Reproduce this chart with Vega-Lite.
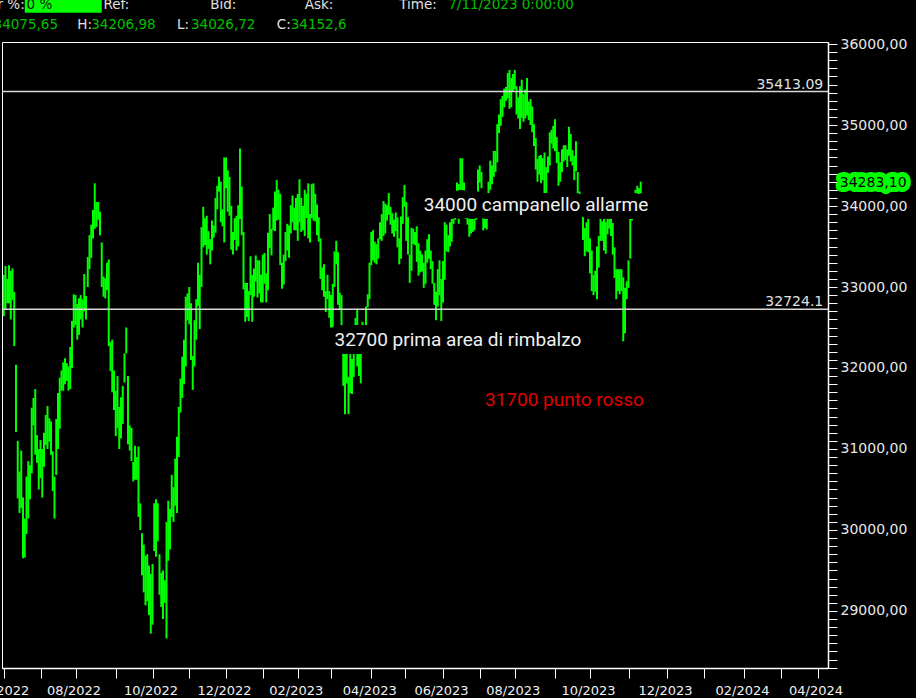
{
"$schema":"https://vega.github.io/schema/vega-lite/v6.json",
"width":826,"height":626,
"autosize":{"type":"none"},
"padding":{"left":2,"top":42,"right":88,"bottom":30},
"background":"#000000",
"config":{"view":{"stroke":"#ffffff","strokeWidth":1},"axis":{"grid":false}},
"datasets":{
"px":[
{"d":"2022-06-01","l":32640,"h":33150},{"d":"2022-06-02","l":32720,"h":33260},{"d":"2022-06-03","l":32800,"h":33100},{"d":"2022-06-06","l":32800,"h":33270},{"d":"2022-06-07","l":32600,"h":33200},{"d":"2022-06-08","l":32840,"h":33230},{"d":"2022-06-09","l":32270,"h":32940},{"d":"2022-06-10","l":31210,"h":32040},{"d":"2022-06-13","l":30390,"h":31100},{"d":"2022-06-14","l":30210,"h":30720},{"d":"2022-06-15","l":30270,"h":30980},{"d":"2022-06-16","l":29650,"h":30400},{"d":"2022-06-17","l":29660,"h":30140},{"d":"2022-06-21","l":29950,"h":30660},{"d":"2022-06-22","l":30140,"h":30850},{"d":"2022-06-23","l":30380,"h":30800},{"d":"2022-06-24","l":30700,"h":31510},{"d":"2022-06-27","l":31290,"h":31630},{"d":"2022-06-28","l":30930,"h":31740},{"d":"2022-06-29","l":30830,"h":31170},{"d":"2022-06-30","l":30500,"h":31000},
{"d":"2022-07-01","l":30640,"h":31110},{"d":"2022-07-05","l":30400,"h":31000},{"d":"2022-07-06","l":30780,"h":31200},{"d":"2022-07-07","l":31050,"h":31420},{"d":"2022-07-08","l":31000,"h":31530},{"d":"2022-07-11","l":31090,"h":31380},{"d":"2022-07-12","l":30930,"h":31340},{"d":"2022-07-13","l":30480,"h":30970},{"d":"2022-07-14","l":30140,"h":30660},{"d":"2022-07-15","l":30680,"h":31370},{"d":"2022-07-18","l":31000,"h":31690},{"d":"2022-07-19","l":31250,"h":31880},{"d":"2022-07-20","l":31720,"h":31970},{"d":"2022-07-21","l":31720,"h":32070},{"d":"2022-07-22","l":31800,"h":32120},{"d":"2022-07-25","l":31840,"h":32060},{"d":"2022-07-26","l":31720,"h":32020},{"d":"2022-07-27","l":31740,"h":32260},{"d":"2022-07-28","l":32000,"h":32580},{"d":"2022-07-29","l":32500,"h":32910},
{"d":"2022-08-01","l":32530,"h":32900},{"d":"2022-08-02","l":32350,"h":32790},{"d":"2022-08-03","l":32410,"h":32860},{"d":"2022-08-04","l":32600,"h":32900},{"d":"2022-08-05","l":32500,"h":32850},{"d":"2022-08-08","l":32700,"h":33160},{"d":"2022-08-09","l":32600,"h":32890},{"d":"2022-08-10","l":33000,"h":33370},{"d":"2022-08-11","l":33220,"h":33640},{"d":"2022-08-12","l":33360,"h":33770},{"d":"2022-08-15","l":33600,"h":33950},{"d":"2022-08-16","l":33720,"h":34280},{"d":"2022-08-17","l":33740,"h":34050},{"d":"2022-08-18","l":33830,"h":34050},{"d":"2022-08-19","l":33640,"h":33930},{"d":"2022-08-22","l":33000,"h":33550},{"d":"2022-08-23","l":32880,"h":33130},{"d":"2022-08-24","l":32860,"h":33110},{"d":"2022-08-25","l":32960,"h":33300},{"d":"2022-08-26","l":32270,"h":33340},{"d":"2022-08-29","l":31960,"h":32320},{"d":"2022-08-30","l":31700,"h":32350},{"d":"2022-08-31","l":31480,"h":31970},
{"d":"2022-09-01","l":31160,"h":31720},{"d":"2022-09-02","l":31260,"h":31900},{"d":"2022-09-06","l":31000,"h":31520},{"d":"2022-09-07","l":31130,"h":31640},{"d":"2022-09-08","l":31310,"h":31780},{"d":"2022-09-09","l":31820,"h":32180},{"d":"2022-09-12","l":32180,"h":32500},{"d":"2022-09-13","l":31060,"h":31900},{"d":"2022-09-14","l":30980,"h":31290},{"d":"2022-09-15","l":30850,"h":31260},{"d":"2022-09-16","l":30600,"h":30840},{"d":"2022-09-19","l":30620,"h":31040},{"d":"2022-09-20","l":30620,"h":30900},{"d":"2022-09-21","l":30160,"h":31030},{"d":"2022-09-22","l":30000,"h":30330},{"d":"2022-09-23","l":29440,"h":29960},{"d":"2022-09-26","l":29230,"h":29820},{"d":"2022-09-27","l":29070,"h":29680},{"d":"2022-09-28","l":29120,"h":29700},{"d":"2022-09-29","l":28950,"h":29560},{"d":"2022-09-30","l":28720,"h":29460},
{"d":"2022-10-03","l":28830,"h":29580},{"d":"2022-10-04","l":29740,"h":30330},{"d":"2022-10-05","l":29670,"h":30380},{"d":"2022-10-06","l":29860,"h":30330},{"d":"2022-10-07","l":29200,"h":29700},{"d":"2022-10-10","l":29050,"h":29470},{"d":"2022-10-11","l":28900,"h":29500},{"d":"2022-10-12","l":29100,"h":29380},{"d":"2022-10-13","l":28660,"h":30100},{"d":"2022-10-14","l":29620,"h":30360},{"d":"2022-10-17","l":29760,"h":30260},{"d":"2022-10-18","l":30160,"h":30680},{"d":"2022-10-19","l":30100,"h":30530},{"d":"2022-10-20","l":30300,"h":30880},{"d":"2022-10-21","l":30210,"h":31150},{"d":"2022-10-24","l":30900,"h":31520},{"d":"2022-10-25","l":31450,"h":31870},{"d":"2022-10-26","l":31630,"h":32140},{"d":"2022-10-27","l":31800,"h":32350},{"d":"2022-10-28","l":32020,"h":32880},{"d":"2022-10-31","l":32590,"h":32920},
{"d":"2022-11-01","l":32540,"h":33000},{"d":"2022-11-02","l":32100,"h":32800},{"d":"2022-11-03","l":31730,"h":32150},{"d":"2022-11-04","l":32020,"h":32590},{"d":"2022-11-07","l":32350,"h":32850},{"d":"2022-11-08","l":32770,"h":33300},{"d":"2022-11-09","l":32480,"h":33150},{"d":"2022-11-10","l":33000,"h":33740},{"d":"2022-11-11","l":33490,"h":33990},{"d":"2022-11-14","l":33520,"h":33850},{"d":"2022-11-15","l":33400,"h":33880},{"d":"2022-11-16","l":33470,"h":33690},{"d":"2022-11-17","l":33280,"h":33590},{"d":"2022-11-18","l":33450,"h":33820},{"d":"2022-11-21","l":33610,"h":33760},{"d":"2022-11-22","l":33670,"h":34100},{"d":"2022-11-23","l":33960,"h":34250},{"d":"2022-11-25","l":34180,"h":34360},{"d":"2022-11-28","l":33800,"h":34300},{"d":"2022-11-29","l":33750,"h":33960},{"d":"2022-11-30","l":33550,"h":34600},
{"d":"2022-12-01","l":34220,"h":34600},{"d":"2022-12-02","l":33930,"h":34440},{"d":"2022-12-05","l":33880,"h":34360},{"d":"2022-12-06","l":33460,"h":34000},{"d":"2022-12-07","l":33400,"h":33680},{"d":"2022-12-08","l":33580,"h":33850},{"d":"2022-12-09","l":33450,"h":33880},{"d":"2022-12-12","l":33500,"h":34010},{"d":"2022-12-13","l":33840,"h":34710},{"d":"2022-12-14","l":33640,"h":34240},{"d":"2022-12-15","l":32970,"h":33680},{"d":"2022-12-16","l":32570,"h":33050},{"d":"2022-12-19","l":32630,"h":33050},{"d":"2022-12-20","l":32580,"h":32950},{"d":"2022-12-21","l":32900,"h":33380},{"d":"2022-12-22","l":32570,"h":33150},{"d":"2022-12-23","l":32880,"h":33230},{"d":"2022-12-27","l":33070,"h":33390},{"d":"2022-12-28","l":32870,"h":33330},{"d":"2022-12-29","l":32920,"h":33330},{"d":"2022-12-30","l":32810,"h":33150},
{"d":"2023-01-03","l":32810,"h":33400},{"d":"2023-01-04","l":33040,"h":33420},{"d":"2023-01-05","l":32810,"h":33170},{"d":"2023-01-06","l":32960,"h":33670},{"d":"2023-01-09","l":33480,"h":33900},{"d":"2023-01-10","l":33390,"h":33720},{"d":"2023-01-11","l":33700,"h":33980},{"d":"2023-01-12","l":33690,"h":34180},{"d":"2023-01-13","l":33820,"h":34320},{"d":"2023-01-17","l":33830,"h":34200},{"d":"2023-01-18","l":33270,"h":34150},{"d":"2023-01-19","l":32980,"h":33300},{"d":"2023-01-20","l":33030,"h":33400},{"d":"2023-01-23","l":33320,"h":33680},{"d":"2023-01-24","l":33450,"h":33780},{"d":"2023-01-25","l":33360,"h":33760},{"d":"2023-01-26","l":33660,"h":34010},{"d":"2023-01-27","l":33800,"h":34130},{"d":"2023-01-30","l":33700,"h":33980},{"d":"2023-01-31","l":33700,"h":34100},
{"d":"2023-02-01","l":33570,"h":34150},{"d":"2023-02-02","l":33800,"h":34330},{"d":"2023-02-03","l":33680,"h":34100},{"d":"2023-02-06","l":33700,"h":34000},{"d":"2023-02-07","l":33630,"h":34200},{"d":"2023-02-08","l":33850,"h":34150},{"d":"2023-02-09","l":33600,"h":34280},{"d":"2023-02-10","l":33550,"h":33900},{"d":"2023-02-13","l":33850,"h":34270},{"d":"2023-02-14","l":33820,"h":34280},{"d":"2023-02-15","l":33810,"h":34150},{"d":"2023-02-16","l":33640,"h":34020},{"d":"2023-02-17","l":33560,"h":33860},{"d":"2023-02-21","l":33100,"h":33600},{"d":"2023-02-22","l":32960,"h":33240},{"d":"2023-02-23","l":32880,"h":33280},{"d":"2023-02-24","l":32690,"h":32950},{"d":"2023-02-27","l":32850,"h":33150},{"d":"2023-02-28","l":32620,"h":32950},
{"d":"2023-03-01","l":32500,"h":32900},{"d":"2023-03-02","l":32480,"h":33040},{"d":"2023-03-03","l":33000,"h":33440},{"d":"2023-03-06","l":33280,"h":33570},{"d":"2023-03-07","l":32780,"h":33430},{"d":"2023-03-08","l":32720,"h":32930},{"d":"2023-03-09","l":32200,"h":32900},{"d":"2023-03-10","l":31780,"h":32320},{"d":"2023-03-13","l":31430,"h":32190},{"d":"2023-03-14","l":31810,"h":32250},{"d":"2023-03-15","l":31430,"h":31890},{"d":"2023-03-16","l":31690,"h":32350},{"d":"2023-03-17","l":31680,"h":32110},{"d":"2023-03-20","l":31890,"h":32350},{"d":"2023-03-21","l":32320,"h":32620},{"d":"2023-03-22","l":32020,"h":32730},{"d":"2023-03-23","l":31900,"h":32460},{"d":"2023-03-24","l":31810,"h":32250},{"d":"2023-03-27","l":32240,"h":32570},{"d":"2023-03-28","l":32220,"h":32500},{"d":"2023-03-29","l":32500,"h":32760},{"d":"2023-03-30","l":32750,"h":32910},{"d":"2023-03-31","l":32850,"h":33300},
{"d":"2023-04-03","l":33270,"h":33680},{"d":"2023-04-04","l":33330,"h":33700},{"d":"2023-04-05","l":33300,"h":33560},{"d":"2023-04-06","l":33280,"h":33530},{"d":"2023-04-10","l":33350,"h":33600},{"d":"2023-04-11","l":33590,"h":33800},{"d":"2023-04-12","l":33570,"h":33900},{"d":"2023-04-13","l":33630,"h":34060},{"d":"2023-04-14","l":33660,"h":34030},{"d":"2023-04-17","l":33820,"h":34010},{"d":"2023-04-18","l":33890,"h":34160},{"d":"2023-04-19","l":33770,"h":33990},{"d":"2023-04-20","l":33660,"h":33910},{"d":"2023-04-21","l":33620,"h":33830},{"d":"2023-04-24","l":33690,"h":33920},{"d":"2023-04-25","l":33490,"h":33860},{"d":"2023-04-26","l":33280,"h":33600},{"d":"2023-04-27","l":33350,"h":33870},{"d":"2023-04-28","l":33780,"h":34110},
{"d":"2023-05-01","l":33990,"h":34260},{"d":"2023-05-02","l":33570,"h":34050},{"d":"2023-05-03","l":33400,"h":33860},{"d":"2023-05-04","l":33050,"h":33400},{"d":"2023-05-05","l":33200,"h":33730},{"d":"2023-05-08","l":33530,"h":33720},{"d":"2023-05-09","l":33520,"h":33680},{"d":"2023-05-10","l":33310,"h":33750},{"d":"2023-05-11","l":33140,"h":33540},{"d":"2023-05-12","l":33180,"h":33450},{"d":"2023-05-15","l":33190,"h":33400},{"d":"2023-05-16","l":32990,"h":33300},{"d":"2023-05-17","l":33040,"h":33450},{"d":"2023-05-18","l":33300,"h":33590},{"d":"2023-05-19","l":33350,"h":33650},{"d":"2023-05-22","l":33220,"h":33450},{"d":"2023-05-23","l":33040,"h":33320},{"d":"2023-05-24","l":32780,"h":33050},{"d":"2023-05-25","l":32590,"h":32940},{"d":"2023-05-26","l":32760,"h":33220},{"d":"2023-05-30","l":32900,"h":33330},{"d":"2023-05-31","l":32580,"h":33100},
{"d":"2023-06-01","l":32810,"h":33320},{"d":"2023-06-02","l":33090,"h":33800},{"d":"2023-06-05","l":33440,"h":33770},{"d":"2023-06-06","l":33430,"h":33640},{"d":"2023-06-07","l":33500,"h":33800},{"d":"2023-06-08","l":33560,"h":33900},{"d":"2023-06-09","l":33780,"h":33990},{"d":"2023-06-12","l":33830,"h":34100},{"d":"2023-06-13","l":33970,"h":34290},{"d":"2023-06-14","l":33780,"h":34270},{"d":"2023-06-15","l":33850,"h":34590},{"d":"2023-06-16","l":34190,"h":34590},{"d":"2023-06-20","l":33990,"h":34290},{"d":"2023-06-21","l":33840,"h":34130},{"d":"2023-06-22","l":33770,"h":34010},{"d":"2023-06-23","l":33620,"h":33850},{"d":"2023-06-26","l":33660,"h":33930},{"d":"2023-06-27","l":33680,"h":33980},{"d":"2023-06-28","l":33700,"h":33900},{"d":"2023-06-29","l":33830,"h":34170},{"d":"2023-06-30","l":34130,"h":34450},
{"d":"2023-07-03","l":34290,"h":34500},{"d":"2023-07-05","l":34220,"h":34420},{"d":"2023-07-06","l":33700,"h":34150},{"d":"2023-07-07","l":33730,"h":34150},{"d":"2023-07-10","l":33710,"h":34000},{"d":"2023-07-11","l":33960,"h":34300},{"d":"2023-07-12","l":34200,"h":34560},{"d":"2023-07-13","l":34270,"h":34500},{"d":"2023-07-14","l":34360,"h":34680},{"d":"2023-07-17","l":34420,"h":34680},{"d":"2023-07-18","l":34540,"h":35010},{"d":"2023-07-19","l":34900,"h":35130},{"d":"2023-07-20","l":34990,"h":35320},{"d":"2023-07-21","l":35100,"h":35360},{"d":"2023-07-24","l":35220,"h":35450},{"d":"2023-07-25","l":35300,"h":35470},{"d":"2023-07-26","l":35330,"h":35640},{"d":"2023-07-27","l":35200,"h":35680},{"d":"2023-07-28","l":35220,"h":35580},{"d":"2023-07-31","l":35420,"h":35630},
{"d":"2023-08-01","l":35440,"h":35680},{"d":"2023-08-02","l":35130,"h":35480},{"d":"2023-08-03","l":35080,"h":35340},{"d":"2023-08-04","l":34950,"h":35480},{"d":"2023-08-07","l":35090,"h":35560},{"d":"2023-08-08","l":35040,"h":35380},{"d":"2023-08-09","l":35080,"h":35440},{"d":"2023-08-10","l":35120,"h":35580},{"d":"2023-08-11","l":35060,"h":35290},{"d":"2023-08-14","l":35000,"h":35320},{"d":"2023-08-15","l":34910,"h":35230},{"d":"2023-08-16","l":34740,"h":35010},{"d":"2023-08-17","l":34450,"h":34840},{"d":"2023-08-18","l":34300,"h":34580},{"d":"2023-08-21","l":34390,"h":34620},{"d":"2023-08-22","l":34280,"h":34630},{"d":"2023-08-23","l":34320,"h":34590},{"d":"2023-08-24","l":34090,"h":34660},{"d":"2023-08-25","l":34030,"h":34480},{"d":"2023-08-28","l":34410,"h":34610},{"d":"2023-08-29","l":34500,"h":34910},{"d":"2023-08-30","l":34770,"h":34940},{"d":"2023-08-31","l":34710,"h":34990},
{"d":"2023-09-01","l":34680,"h":35070},{"d":"2023-09-05","l":34530,"h":34850},{"d":"2023-09-06","l":34250,"h":34670},{"d":"2023-09-07","l":34300,"h":34540},{"d":"2023-09-08","l":34420,"h":34700},{"d":"2023-09-11","l":34550,"h":34750},{"d":"2023-09-12","l":34570,"h":34750},{"d":"2023-09-13","l":34480,"h":34700},{"d":"2023-09-14","l":34620,"h":34980},{"d":"2023-09-15","l":34550,"h":34890},{"d":"2023-09-18","l":34500,"h":34690},{"d":"2023-09-19","l":34320,"h":34620},{"d":"2023-09-20","l":34430,"h":34800},{"d":"2023-09-21","l":34060,"h":34420},{"d":"2023-09-22","l":33920,"h":34180},{"d":"2023-09-25","l":33860,"h":34070},{"d":"2023-09-26","l":33580,"h":33940},{"d":"2023-09-27","l":33380,"h":33730},{"d":"2023-09-28","l":33440,"h":33800},{"d":"2023-09-29","l":33430,"h":33970},
{"d":"2023-10-02","l":33170,"h":33600},{"d":"2023-10-03","l":32950,"h":33450},{"d":"2023-10-04","l":32900,"h":33150},{"d":"2023-10-05","l":32940,"h":33200},{"d":"2023-10-06","l":32850,"h":33500},{"d":"2023-10-09","l":33240,"h":33630},{"d":"2023-10-10","l":33570,"h":33870},{"d":"2023-10-11","l":33570,"h":33810},{"d":"2023-10-12","l":33450,"h":33940},{"d":"2023-10-13","l":33410,"h":33800},{"d":"2023-10-16","l":33650,"h":34030},{"d":"2023-10-17","l":33720,"h":34070},{"d":"2023-10-18","l":33630,"h":34080},{"d":"2023-10-19","l":33400,"h":33790},{"d":"2023-10-20","l":33110,"h":33490},{"d":"2023-10-23","l":32850,"h":33220},{"d":"2023-10-24","l":32950,"h":33220},{"d":"2023-10-25","l":32910,"h":33220},{"d":"2023-10-26","l":32950,"h":33220},{"d":"2023-10-27","l":32330,"h":33120},{"d":"2023-10-30","l":32430,"h":32990},{"d":"2023-10-31","l":32850,"h":33070},
{"d":"2023-11-01","l":32990,"h":33330},{"d":"2023-11-02","l":33350,"h":33870},{"d":"2023-11-03","l":33820,"h":34130},{"d":"2023-11-06","l":33870,"h":34120},{"d":"2023-11-07","l":34020,"h":34200},{"d":"2023-11-08","l":34020,"h":34250},{"d":"2023-11-09","l":33870,"h":34220},{"d":"2023-11-10","l":33900,"h":34300}
],
"slots":[
{"d":"2023-11-13"},{"d":"2023-11-14"},{"d":"2023-11-15"},{"d":"2023-11-16"},{"d":"2023-11-17"},{"d":"2023-11-20"},{"d":"2023-11-21"},{"d":"2023-11-22"},{"d":"2023-11-23"},{"d":"2023-11-24"},{"d":"2023-11-27"},{"d":"2023-11-28"},{"d":"2023-11-29"},{"d":"2023-11-30"},
{"d":"2023-12-01"},{"d":"2023-12-04"},{"d":"2023-12-05"},{"d":"2023-12-06"},{"d":"2023-12-07"},{"d":"2023-12-08"},{"d":"2023-12-11"},{"d":"2023-12-12"},{"d":"2023-12-13"},{"d":"2023-12-14"},{"d":"2023-12-15"},{"d":"2023-12-18"},{"d":"2023-12-19"},{"d":"2023-12-20"},{"d":"2023-12-21"},{"d":"2023-12-22"},{"d":"2023-12-25"},{"d":"2023-12-26"},{"d":"2023-12-27"},{"d":"2023-12-28"},{"d":"2023-12-29"},
{"d":"2024-01-01"},{"d":"2024-01-02"},{"d":"2024-01-03"},{"d":"2024-01-04"},{"d":"2024-01-05"},{"d":"2024-01-08"},{"d":"2024-01-09"},{"d":"2024-01-10"},{"d":"2024-01-11"},{"d":"2024-01-12"},{"d":"2024-01-15"},{"d":"2024-01-16"},{"d":"2024-01-17"},{"d":"2024-01-18"},{"d":"2024-01-19"},{"d":"2024-01-22"},{"d":"2024-01-23"},{"d":"2024-01-24"},{"d":"2024-01-25"},{"d":"2024-01-26"},{"d":"2024-01-29"},{"d":"2024-01-30"},{"d":"2024-01-31"},
{"d":"2024-02-01"},{"d":"2024-02-02"},{"d":"2024-02-05"},{"d":"2024-02-06"},{"d":"2024-02-07"},{"d":"2024-02-08"},{"d":"2024-02-09"},{"d":"2024-02-12"},{"d":"2024-02-13"},{"d":"2024-02-14"},{"d":"2024-02-15"},{"d":"2024-02-16"},{"d":"2024-02-19"},{"d":"2024-02-20"},{"d":"2024-02-21"},{"d":"2024-02-22"},{"d":"2024-02-23"},{"d":"2024-02-26"},{"d":"2024-02-27"},{"d":"2024-02-28"},{"d":"2024-02-29"},
{"d":"2024-03-01"},{"d":"2024-03-04"},{"d":"2024-03-05"},{"d":"2024-03-06"},{"d":"2024-03-07"},{"d":"2024-03-08"},{"d":"2024-03-11"},{"d":"2024-03-12"},{"d":"2024-03-13"},{"d":"2024-03-14"},{"d":"2024-03-15"},{"d":"2024-03-18"},{"d":"2024-03-19"},{"d":"2024-03-20"},{"d":"2024-03-21"},{"d":"2024-03-22"},{"d":"2024-03-25"},{"d":"2024-03-26"},{"d":"2024-03-27"},{"d":"2024-03-28"},{"d":"2024-03-29"},
{"d":"2024-04-01"},{"d":"2024-04-02"},{"d":"2024-04-03"},{"d":"2024-04-04"},{"d":"2024-04-05"},{"d":"2024-04-08"}
],
"levels":[{"v":35413.09,"t":"35413.09"},{"v":32724.1,"t":"32724.1"}],
"notes":[
{"t":"34000 campanello allarme","d":"2023-05-16","v":33942,"k":"w"},
{"t":"32700 prima area di rimbalzo","d":"2023-03-03","v":32271,"k":"w"},
{"t":"31700 punto rosso","d":"2023-07-07","v":31534,"k":"r"}
],
"headL":[
{"t":"0 %","d":"2022-06-21","v":36432,"k":"box"},
{"t":"Ref:","d":"2022-08-23","v":36432,"k":"lab"},
{"t":"Bid:","d":"2022-11-17","v":36432,"k":"lab"},
{"t":"Ask:","d":"2023-02-07","v":36432,"k":"lab"},
{"t":"Time:","d":"2023-04-26","v":36432,"k":"lab"},
{"t":"7/11/2023 0:00:00","d":"2023-06-06","v":36432,"k":"val"},
{"t":"H:","d":"2022-08-02","v":36181,"k":"lab"},
{"t":"34206,98","d":"2022-08-12","v":36181,"k":"val"},
{"t":"L:","d":"2022-10-21","v":36181,"k":"lab"},
{"t":"34026,72","d":"2022-11-02","v":36181,"k":"val"},
{"t":"C:","d":"2023-01-13","v":36181,"k":"lab"},
{"t":"34152,6","d":"2023-01-26","v":36181,"k":"val"}
],
"headR":[
{"t":"Var %:","d":"2022-06-17","v":36432,"k":"lab"},
{"t":"O:34075,65","d":"2022-07-18","v":36181,"k":"val"}
],
"hbox":[{"d":"2022-06-17","d2":"2022-08-22","v":36465}],
"last":[{"t":"34283,10","v":34283.1}]
},
"layer":[
{
"data":{"name":"px"},
"mark":{"type":"rule","color":"#00ff00","strokeWidth":2},
"encoding":{
"x":{"field":"d","type":"ordinal","scale":{"type":"point","padding":1},
"axis":{"orient":"bottom","title":null,"values":["2022-06-01","2022-07-01","2022-08-01","2022-09-01","2022-10-03","2022-11-01","2022-12-01","2023-01-03","2023-02-01","2023-03-01","2023-04-03","2023-05-01","2023-06-01","2023-07-03","2023-08-01","2023-09-01","2023-10-02","2023-11-01","2023-12-01","2024-01-01","2024-02-01","2024-03-01","2024-04-01"],
"labelExpr":"indexof(['02','04','06','08','10','12'], substring(datum.value, 5, 7)) >= 0 ? substring(datum.value, 5, 7) + '/' + substring(datum.value, 0, 4) : ''",
"labelAngle":0,"labelColor":"#f0f0f0","labelFont":"DejaVu Sans","labelFontSize":13,"labelPadding":6,"labelOffset":-2,"labelOverlap":false,"labelBound":false,"labelFlush":false,
"domainColor":"#ffffff","domainWidth":1.5,"tickColor":"#ffffff","tickSize":10,"tickWidth":1,"grid":false}},
"y":{"field":"l","type":"quantitative","scale":{"domain":[28296,36025],"nice":false,"zero":false},
"axis":{"orient":"right","title":null,"tickCount":1000,"values":[28300,28400,28500,28600,28700,28800,28900,29000,29100,29200,29300,29400,29500,29600,29700,29800,29900,30000,30100,30200,30300,30400,30500,30600,30700,30800,30900,31000,31100,31200,31300,31400,31500,31600,31700,31800,31900,32000,32100,32200,32300,32400,32500,32600,32700,32800,32900,33000,33100,33200,33300,33400,33500,33600,33700,33800,33900,34000,34100,34200,34300,34400,34500,34600,34700,34800,34900,35000,35100,35200,35300,35400,35500,35600,35700,35800,35900,36000],
"labelExpr":"datum.value % 1000 === 0 ? replace(format(datum.value, '.2f'), '.', ',') : ''",
"labelColor":"#e8e8e8","labelFont":"DejaVu Sans","labelFontSize":14,"labelPadding":3,"labelOverlap":false,"labelBound":false,"labelFlush":false,
"domainColor":"#ffffff","domainWidth":1.5,"tickColor":"#ffffff","tickSize":9,"tickWidth":1,"grid":false,
"encode":{"ticks":{"update":{"x2":{"signal":"datum.value % 1000 === 0 ? 9 : 5"}}}}}},
"y2":{"field":"h"}
}
},
{
"data":{"name":"slots"},
"mark":{"type":"rule","opacity":0},
"encoding":{"x":{"field":"d","type":"ordinal"}}
},
{
"data":{"name":"levels"},
"mark":{"type":"rule","color":"#d8d8d8","strokeWidth":1.5},
"encoding":{"y":{"field":"v","type":"quantitative"}}
},
{
"data":{"name":"levels"},
"mark":{"type":"text","align":"right","baseline":"alphabetic","dx":-3,"dy":-3,"font":"DejaVu Sans","fontSize":14,"color":"#e0e0e0"},
"encoding":{"x":{"datum":"2024-04-08","type":"ordinal"},"y":{"field":"v","type":"quantitative"},"text":{"field":"t"}}
},
{
"data":{"name":"notes"},
"transform":[{"filter":"datum.k === 'w'"}],
"mark":{"type":"text","align":"left","baseline":"alphabetic","font":"Roboto","fontSize":19,"fill":"#000000","stroke":"#000000","strokeWidth":16,"strokeJoin":"round"},
"encoding":{"x":{"field":"d","type":"ordinal"},"y":{"field":"v","type":"quantitative"},"text":{"field":"t"}}
},
{
"data":{"name":"notes"},
"mark":{"type":"text","align":"left","baseline":"alphabetic","font":"Roboto","fontSize":19},
"encoding":{"x":{"field":"d","type":"ordinal"},"y":{"field":"v","type":"quantitative"},"text":{"field":"t"},
"color":{"field":"k","type":"nominal","legend":null,"scale":{"domain":["w","r","lab","val","box"],"range":["#f0f0f0","#e00000","#e0e0e0","#00c000","#101010"]}}}
},
{
"data":{"name":"hbox"},
"mark":{"type":"rule","color":"#00ff00","strokeWidth":12.7,"strokeCap":"butt"},
"encoding":{"x":{"field":"d","type":"ordinal"},"x2":{"field":"d2"},"y":{"field":"v","type":"quantitative"}}
},
{
"data":{"name":"headL"},
"mark":{"type":"text","align":"left","baseline":"alphabetic","font":"DejaVu Sans","fontSize":13.5},
"encoding":{"x":{"field":"d","type":"ordinal"},"y":{"field":"v","type":"quantitative"},"text":{"field":"t"},
"color":{"field":"k","type":"nominal","legend":null}}
},
{
"data":{"name":"headR"},
"mark":{"type":"text","align":"right","baseline":"alphabetic","font":"DejaVu Sans","fontSize":13.5},
"encoding":{"x":{"field":"d","type":"ordinal"},"y":{"field":"v","type":"quantitative"},"text":{"field":"t"},
"color":{"field":"k","type":"nominal","legend":null}}
},
{
"data":{"name":"last"},
"mark":{"type":"text","align":"left","baseline":"middle","dx":13.5,"font":"DejaVu Sans","fontSize":14,"fill":"#00ff00","stroke":"#00ff00","strokeWidth":10,"strokeJoin":"round"},
"encoding":{"x":{"datum":"2024-04-08","type":"ordinal"},"y":{"field":"v","type":"quantitative"},"text":{"field":"t"}}
},
{
"data":{"name":"last"},
"mark":{"type":"text","align":"left","baseline":"middle","dx":13.5,"font":"DejaVu Sans","fontSize":14,"color":"#000000"},
"encoding":{"x":{"datum":"2024-04-08","type":"ordinal"},"y":{"field":"v","type":"quantitative"},"text":{"field":"t"}}
}
]
}
